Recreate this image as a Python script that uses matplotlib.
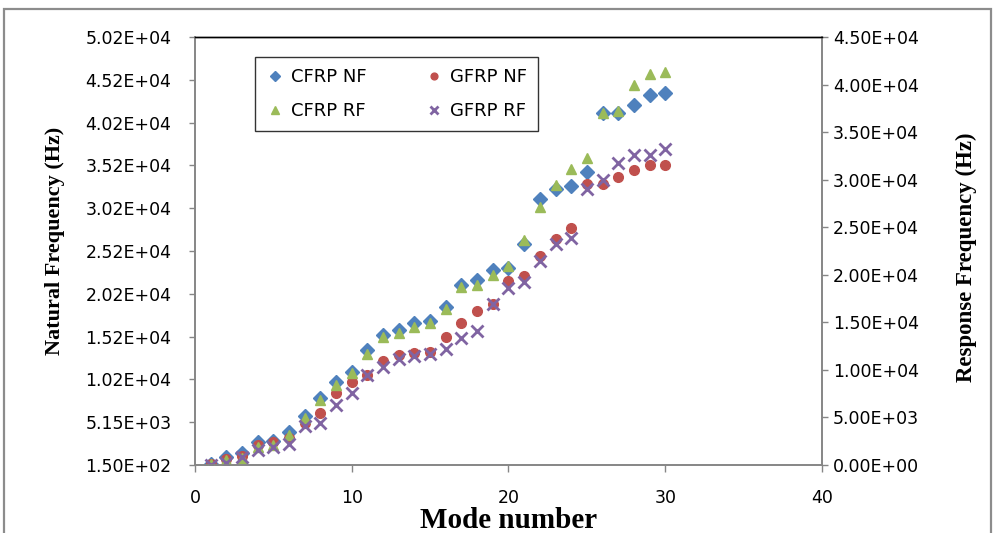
import matplotlib
matplotlib.use("Agg")
import matplotlib.pyplot as plt
from matplotlib.patches import Rectangle
import numpy as np

modes = list(range(1, 31))

cfrp_nf = [300, 1050, 1520, 2875, 2990, 4040, 5880, 7950, 9890, 11060,
           13600, 15350, 15940, 16790, 17020, 18590, 21200, 21780, 22950, 23150,
           25990, 31220, 32390, 32720, 34380, 41350, 41350, 42250, 43420, 43620]
gfrp_nf = [250, 850, 1200, 2490, 2875, 3270, 5030, 6200, 8540, 9890,
           10680, 12350, 13010, 13280, 13400, 15150, 16720, 18190, 18980, 21700,
           22250, 24590, 26540, 27830, 33010, 32980, 33790, 34650, 35230, 35230]
cfrp_rf = [100, 530, 700, 1920, 2090, 3150, 4940, 6830, 8410, 9700,
           11670, 13490, 13850, 14540, 14900, 16370, 18750, 18930, 19980, 20920,
           23660, 27160, 29440, 31090, 32250, 37010, 37220, 39950, 41110, 41350]
gfrp_rf = [50, 180, 870, 1580, 1920, 2180, 4100, 4380, 6310, 7600,
           9460, 10270, 11110, 11460, 11670, 12170, 13320, 14120, 16930, 18580,
           19270, 21480, 23240, 23840, 28990, 29970, 31720, 32590, 32590, 33220]

left_ticks = list(np.linspace(150, 50200, 11))
left_labels = ["1.50E+02", "5.15E+03", "1.02E+04", "1.52E+04", "2.02E+04", "2.52E+04",
               "3.02E+04", "3.52E+04", "4.02E+04", "4.52E+04", "5.02E+04"]
right_ticks = list(range(0, 45001, 5000))
right_labels = ["0.00E+00", "5.00E+03", "1.00E+04", "1.50E+04", "2.00E+04", "2.50E+04",
                "3.00E+04", "3.50E+04", "4.00E+04", "4.50E+04"]
x_ticks = [0, 10, 20, 30, 40]

W, H = 995, 533
fig = plt.figure(figsize=(W / 100, H / 100), dpi=100)
fig.patch.set_facecolor("white")

# outer frame
fig.patches.append(Rectangle((4 / W, -0.05), (991 - 4) / W, 1.05 - 9 / H,
                             transform=fig.transFigure, fill=False,
                             edgecolor="#8c8c8c", linewidth=1.6))

L, R, T, B = 195, 822, 37, 465
ax = fig.add_axes([L / W, 1 - B / H, (R - L) / W, (B - T) / H])
ax2 = ax.twinx()

blue, red, green, purple = "#4F81BD", "#C0504D", "#9BBB59", "#8064A2"

h1, = ax.plot(modes, cfrp_nf, linestyle="none", marker="D", markersize=7,
              color=blue, label="CFRP NF")
h2, = ax.plot(modes, gfrp_nf, linestyle="none", marker="o", markersize=7,
              color=red, label="GFRP NF")
h3, = ax2.plot(modes, cfrp_rf, linestyle="none", marker="^", markersize=7.5,
               color=green, label="CFRP RF")
h4, = ax2.plot(modes, gfrp_rf, linestyle="none", marker="x", markersize=8.5,
               markeredgewidth=2.0, color=purple, label="GFRP RF")

ax.set_xlim(0, 40)
ax.set_ylim(150, 50200)
ax2.set_ylim(0, 45000)
ax.set_xticks(x_ticks)
ax.set_yticks(left_ticks)
ax.set_yticklabels(left_labels)
ax2.set_yticks(right_ticks)
ax2.set_yticklabels(right_labels)

gray = "#868686"
for a in (ax, ax2):
    for s in ("left", "right", "bottom"):
        a.spines[s].set_color(gray)
        a.spines[s].set_linewidth(1.2)
    a.spines["top"].set_color("black")
    a.spines["top"].set_linewidth(1.0)

ax.tick_params(axis="y", direction="out", length=4, width=1, color=gray, pad=13)
ax.tick_params(axis="x", direction="out", length=5, width=1, color=gray, pad=12)
ax2.tick_params(axis="y", direction="out", length=4, width=1, color=gray, pad=4)
for lab in ax.get_xticklabels() + ax.get_yticklabels() + ax2.get_yticklabels():
    lab.set_fontfamily("DejaVu Sans")
    lab.set_fontsize(12.5)

serif = ["Liberation Serif", "DejaVu Serif"]
fig.text(55 / W, 1 - 241 / H, "Natural Frequency (Hz)", rotation=90, ha="center",
         va="center", family=serif, weight="bold", fontsize=16)
fig.text(966 / W, 1 - 257 / H, "Response Frequency (Hz)", rotation=90, ha="center",
         va="center", family=serif, weight="bold", fontsize=16.5)
fig.text(509 / W, 1 - 521 / H, "Mode number", ha="center", va="center",
         family=serif, weight="bold", fontsize=21)

leg = ax2.legend(handles=[h1, h3, h2, h4], ncol=2, loc="upper left",
                 bbox_to_anchor=(255 / W, 1 - 57 / H), bbox_transform=fig.transFigure,
                 borderaxespad=0, frameon=True, fancybox=False, markerscale=0.7,
                 prop=dict(family="DejaVu Sans", size=13), handlelength=1.0,
                 handletextpad=0.4, columnspacing=3.2, labelspacing=0.9,
                 borderpad=0.6)
leg.get_frame().set_edgecolor("black")
leg.get_frame().set_linewidth(1.0)

fig.savefig("out.png", dpi=100)
